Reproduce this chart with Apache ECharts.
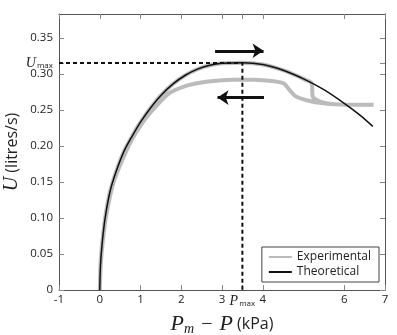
<!DOCTYPE html>
<html>
<head>
<meta charset="utf-8">
<script src="https://cdn.jsdelivr.net/npm/echarts@6/dist/echarts.min.js"></script>
<style>
    html, body { margin: 0; padding: 0; background: #fff; }
    #chart { width: 397px; height: 335px; }
</style>
</head>
<body>
<div id="chart"></div>
<script>
    // theoretical curve
    const theoP = [0, 0.02, 0.06, 0.13, 0.25, 0.4, 0.6, 0.8, 1.0, 1.25, 1.5, 1.8, 2.1, 2.4, 2.7, 3.0, 3.5, 4.0, 4.5, 5.0, 5.5, 6.0, 6.4, 6.7]
    const theoU = [0, 0.036, 0.065, 0.099, 0.136, 0.164, 0.193, 0.214, 0.233, 0.253, 0.27, 0.286, 0.298, 0.3065, 0.3118, 0.3145, 0.3155, 0.313, 0.305, 0.293, 0.278, 0.259, 0.242, 0.227]

    // experimental loop: forward branch (under the theoretical line), then the return branch
    const expP = [0, 0.02, 0.06, 0.13, 0.25, 0.4, 0.6, 0.8, 1.0, 1.25, 1.5, 1.8, 2.1, 2.4, 2.7, 3.0, 3.5, 4.0, 4.5, 5.0, 5.2, 5.23, 5.35, 5.59, 6.04, 6.72,
                  6.0, 5.5, 5.1, 4.8, 4.65, 4.5, 4.0, 3.5, 3.0, 2.5, 2.1, 1.7, 1.4, 1.1, 0.8, 0.55, 0.33, 0.16, 0.07, 0.025, 0]
    const expU = [0, 0.036, 0.065, 0.099, 0.136, 0.164, 0.193, 0.214, 0.233, 0.253, 0.27, 0.286, 0.298, 0.3065, 0.3118, 0.3145, 0.3155, 0.313, 0.305, 0.293, 0.287, 0.268, 0.263, 0.259, 0.257, 0.257,
                  0.257, 0.259, 0.263, 0.269, 0.278, 0.287, 0.291, 0.292, 0.291, 0.288, 0.283, 0.273, 0.256, 0.236, 0.21, 0.18, 0.148, 0.104, 0.066, 0.035, 0]

    const pMax = 3.5
    const uMax = 0.315

    // tick positions
    const xTicks = [-1, 0, 1, 2, 3, pMax, 4, 6, 7]
    const yTicks = [0, 0.05, 0.1, 0.15, 0.2, 0.25, 0.3, uMax, 0.35]

    // direction arrows [pStart, pEnd, u]
    const arrowFwd = [2.83, 4.02, 0.332]
    const arrowBack = [4.03, 2.89, 0.267]

    const zip = (a, b) => a.map((v, i) => [v, b[i]])

    const chart = echarts.init(document.getElementById('chart'))

    const frame = { show: true, onZero: false, lineStyle: { color: '#555', width: 1 } }
    const ticks = { inside: true, length: 5, lineStyle: { color: '#888' } }
    const serifIt = { fontFamily: 'Liberation Serif', fontStyle: 'italic', fontSize: 14, color: '#222' }
    const subSm = { fontFamily: 'Open Sans', fontSize: 8, color: '#222', padding: [6, 0, 0, 1] }

    chart.setOption({
        animation: false,
        textStyle: { fontFamily: 'Open Sans' },
        grid: { left: 59, right: 12, top: 14, bottom: 45, containLabel: false, outerBoundsMode: 'none' },
        legend: {
            orient: 'vertical',
            right: 18,
            bottom: 53,
            itemWidth: 23,
            itemHeight: 10,
            itemGap: 3,
            padding: [4, 8, 4, 6],
            borderColor: '#444',
            borderWidth: 1,
            backgroundColor: '#fff',
            itemStyle: { opacity: 0 },
            textStyle: { fontSize: 12, color: '#222', fontFamily: 'Open Sans' },
            data: ['Experimental', 'Theoretical']
        },
        xAxis: [
            {
                type: 'value',
                min: -1,
                max: 7,
                name: '{p|P}{m|m}{o|−}{p|P} (kPa)',
                nameLocation: 'middle',
                nameGap: 23,
                nameMoveOverlap: false,
                nameTextStyle: {
                    fontSize: 16, color: '#222', fontFamily: 'Open Sans',
                    rich: {
                        p: { fontFamily: 'Liberation Serif', fontStyle: 'italic', fontSize: 22, color: '#222' },
                        m: { fontFamily: 'Liberation Serif', fontStyle: 'italic', fontSize: 14, color: '#222', padding: [9, 0, 0, 0] },
                        o: { fontFamily: 'Liberation Serif', fontSize: 20, color: '#222', padding: [0, 7, 0, 7] }
                    }
                },
                axisLine: frame,
                splitLine: { show: false },
                axisTick: Object.assign({ customValues: xTicks }, ticks),
                axisLabel: {
                    customValues: xTicks,
                    margin: 4,
                    fontSize: 11.5,
                    color: '#222',
                    formatter: v => v === pMax ? '{i|P}{s|max}' : String(v),
                    rich: { i: serifIt, s: subSm }
                }
            },
            {
                type: 'value',
                position: 'top',
                min: -1,
                max: 7,
                axisLine: frame,
                splitLine: { show: false },
                axisTick: Object.assign({ customValues: xTicks }, ticks),
                axisLabel: { show: false }
            }
        ],
        yAxis: [
            {
                type: 'value',
                min: 0,
                max: 0.383,
                name: '{u|U} (litres/s)',
                nameLocation: 'middle',
                nameRotate: 90,
                nameGap: 37,
                nameMoveOverlap: false,
                nameTextStyle: {
                    fontSize: 16, color: '#222', fontFamily: 'Open Sans',
                    rich: { u: { fontFamily: 'Liberation Serif', fontStyle: 'italic', fontSize: 20, color: '#222' } }
                },
                axisLine: frame,
                splitLine: { show: false },
                axisTick: Object.assign({ customValues: yTicks }, ticks),
                axisLabel: {
                    customValues: yTicks,
                    margin: 6,
                    fontSize: 11.5,
                    color: '#222',
                    formatter: v => v === uMax ? '{i|U}{s|max}' : (v === 0 ? '0' : v.toFixed(2)),
                    rich: { i: serifIt, s: subSm }
                }
            },
            {
                type: 'value',
                position: 'right',
                min: 0,
                max: 0.383,
                axisLine: frame,
                splitLine: { show: false },
                axisTick: Object.assign({ customValues: yTicks }, ticks),
                axisLabel: { show: false }
            }
        ],
        series: [
            {
                name: 'Experimental',
                type: 'line',
                data: zip(expP, expU),
                showSymbol: false,
                symbol: 'none',
                smooth: 0.3,
                color: '#bbb',
                lineStyle: { color: '#bbb', width: 4 },
                z: 2
            },
            {
                name: 'Theoretical',
                type: 'line',
                data: zip(theoP, theoU),
                showSymbol: false,
                symbol: 'none',
                smooth: 0.3,
                color: '#111',
                lineStyle: { color: '#111', width: 1.5 },
                z: 3
            },
            {
                name: 'max',
                type: 'line',
                data: [[-1, uMax], [pMax, uMax], [pMax, 0]],
                showSymbol: false,
                symbol: 'none',
                silent: true,
                lineStyle: { color: '#111', width: 2, type: [4, 3] },
                z: 4,
                markLine: {
                    silent: true,
                    symbol: ['none', 'arrow'],
                    symbolSize: 11,
                    label: { show: false },
                    lineStyle: { color: '#111', width: 3, type: 'solid' },
                    emphasis: { disabled: true },
                    data: [
                        [{ coord: [arrowFwd[0], arrowFwd[2]] }, { coord: [arrowFwd[1], arrowFwd[2]] }],
                        [{ coord: [arrowBack[0], arrowBack[2]] }, { coord: [arrowBack[1], arrowBack[2]] }]
                    ]
                }
            }
        ]
    })
</script>
</body>
</html>
